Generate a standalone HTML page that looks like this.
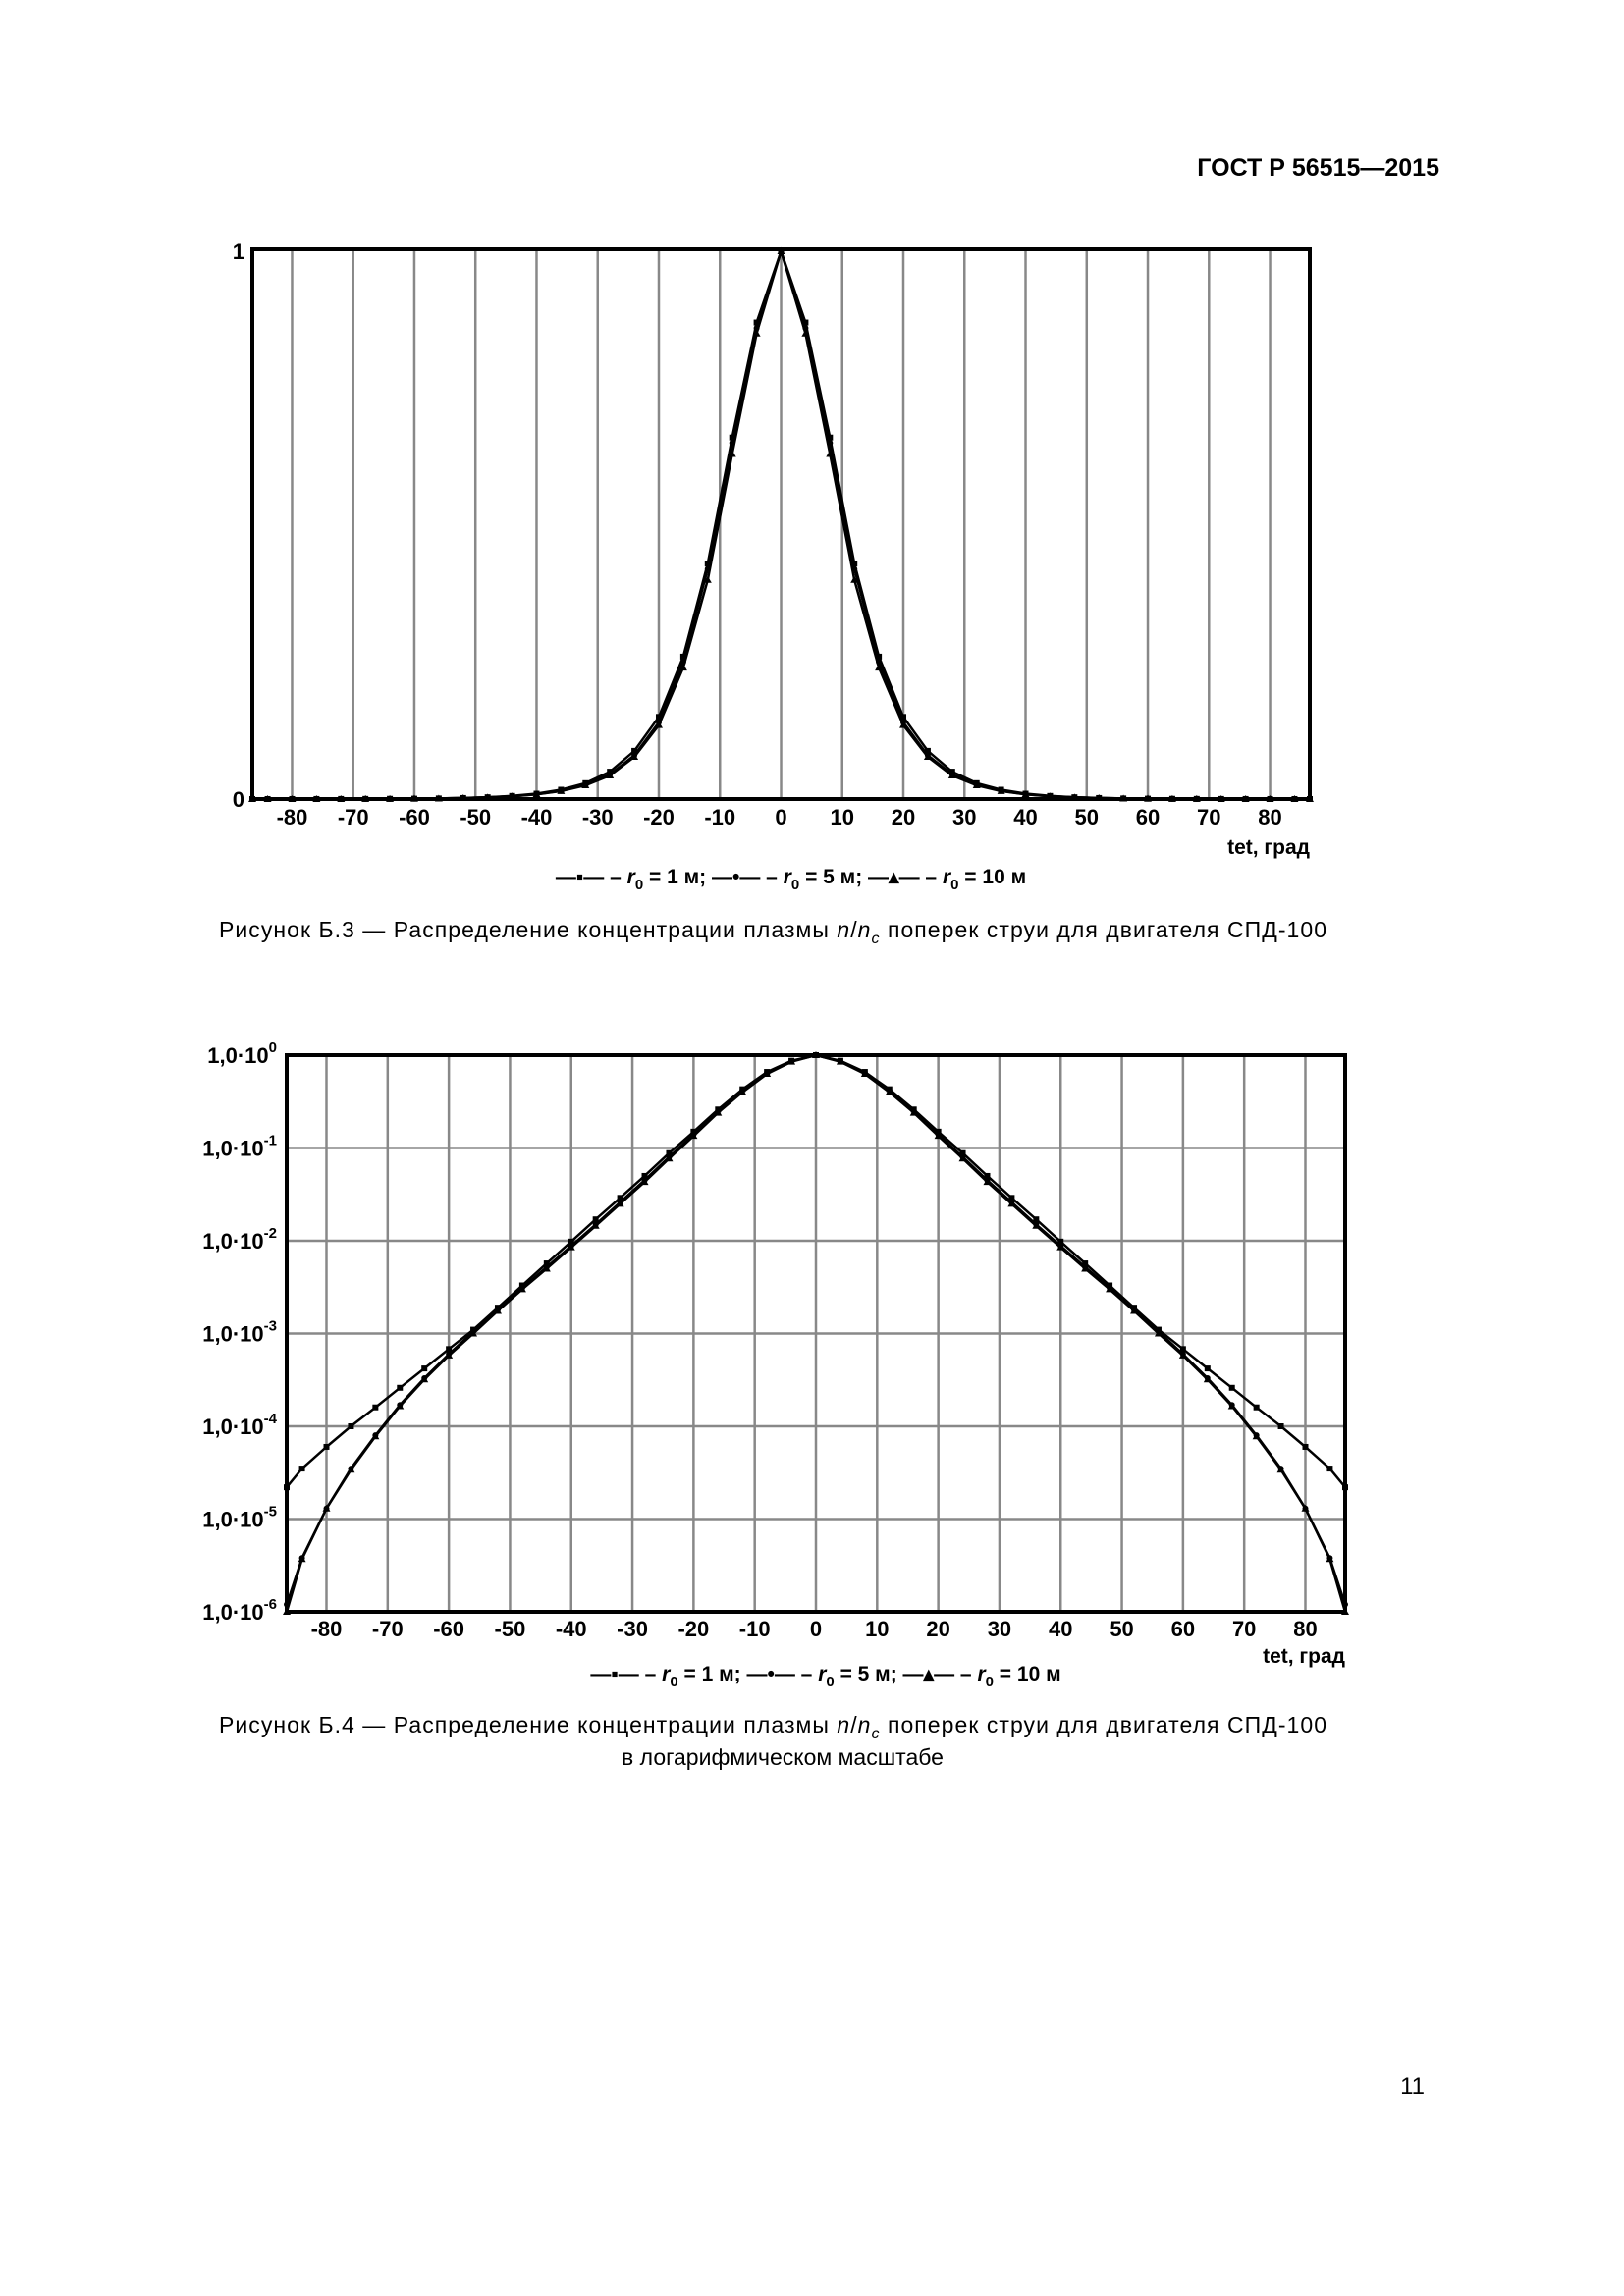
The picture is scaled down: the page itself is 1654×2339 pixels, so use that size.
<!DOCTYPE html>
<html><head><meta charset="utf-8"><style>
html,body{margin:0;padding:0;background:#fff}
svg{display:block;font-family:"Liberation Sans","Noto Sans CJK SC",sans-serif}
</style></head><body>
<svg id="page" width="1654" height="2339" viewBox="0 0 1654 2339" xmlns="http://www.w3.org/2000/svg">
<text x="1466" y="179" text-anchor="end" font-size="25" font-weight="bold">ГОСТ Р 56515—2015</text>
<g id="c1"></g>
<g id="c2"></g>
<text x="223" y="955" font-size="23" textLength="1128">Рисунок Б.3 — Распределение концентрации плазмы <tspan font-style="italic">n</tspan>/<tspan font-style="italic">n</tspan><tspan font-style="italic" font-size="16" dy="6">c</tspan><tspan dy="-6"> поперек струи для двигателя СПД-100</tspan></text>
<text x="223" y="1765" font-size="23" textLength="1128">Рисунок Б.4 — Распределение концентрации плазмы <tspan font-style="italic">n</tspan>/<tspan font-style="italic">n</tspan><tspan font-style="italic" font-size="16" dy="6">c</tspan><tspan dy="-6"> поперек струи для двигателя СПД-100</tspan></text>
<text x="797" y="1798" font-size="23" text-anchor="middle">в логарифмическом масштабе</text>
<text x="1451" y="2133" font-size="24" text-anchor="end">11</text>
</svg>
<script>
const angles=[-86.5,-84,-80,-76,-72,-68,-64,-60,-56,-52,-48,-44,-40,-36,-32,-28,-24,-20,-16,-12,-8,-4,0,4,8,12,16,20,24,28,32,36,40,44,48,52,56,60,64,68,72,76,80,84,86.5];
const r1=[0.000022,0.000035,0.00006,0.0001,0.00016,0.00026,0.00042,0.00068,0.0011,0.0019,0.0033,0.0057,0.0098,0.017,0.029,0.05,0.088,0.15,0.26,0.43,0.66,0.87,1,0.87,0.66,0.43,0.26,0.15,0.088,0.05,0.029,0.017,0.0098,0.0057,0.0033,0.0019,0.0011,0.00068,0.00042,0.00026,0.00016,0.0001,0.00006,0.000035,0.000022];
const r5=[0.0000012,0.0000038,0.000013,0.000035,0.00008,0.00017,0.00033,0.0006,0.00105,0.0018,0.0031,0.0052,0.0088,0.015,0.026,0.045,0.08,0.14,0.25,0.42,0.65,0.86,1,0.86,0.65,0.42,0.25,0.14,0.08,0.045,0.026,0.015,0.0088,0.0052,0.0031,0.0018,0.00105,0.0006,0.00033,0.00017,0.00008,0.000035,0.000013,0.0000038,0.0000012];
const r10=[0.000001,0.0000037,0.000013,0.000034,0.000078,0.000165,0.00032,0.00058,0.001,0.00175,0.003,0.005,0.0085,0.0145,0.025,0.043,0.077,0.135,0.24,0.40,0.63,0.85,1,0.85,0.63,0.40,0.24,0.135,0.077,0.043,0.025,0.0145,0.0085,0.005,0.003,0.00175,0.001,0.00058,0.00032,0.000165,0.000078,0.000034,0.000013,0.0000037,0.000001];
const xTicks=[-80,-70,-60,-50,-40,-30,-20,-10,0,10,20,30,40,50,60,70,80];
const logTicks=[0,-1,-2,-3,-4,-5,-6];
const NS="http://www.w3.org/2000/svg";
function mk(p,t,a){const e=document.createElementNS(NS,t);for(const k in a)e.setAttribute(k,a[k]);p.appendChild(e);return e;}
function marker(g,shape,x,y){
 let m;
 if(shape==='sq'){m=mk(g,'rect',{x:x-3,y:y-3,width:6,height:6,fill:'#000'});}
 else if(shape==='ci'){m=mk(g,'circle',{cx:x,cy:y,r:3,fill:'#000'});}
 else {m=mk(g,'polygon',{points:(x)+','+(y-4)+' '+(x-4)+','+(y+3)+' '+(x+4)+','+(y+3),fill:'#000'});}
 
 
}
function chart(g,L,R,T,B,yFn,isLog,labY,tetY,legY){
 const xs=v=>L+(v+86.5)/173*(R-L);
 xTicks.forEach(t=>{
  const l=mk(g,'line',{x1:xs(t),x2:xs(t),y1:T,y2:B,stroke:'#888','stroke-width':2.5});
  
  
  const tx=mk(g,'text',{x:xs(t),y:labY,'text-anchor':'middle','font-size':22,'font-weight':'bold'});tx.textContent=t;
  
  
 });
 if(isLog){
  logTicks.forEach(p=>{
   const y=yFn(Math.pow(10,p));
   const l=mk(g,'line',{x1:L,x2:R,y1:y,y2:y,stroke:'#888','stroke-width':2.5});
   
   
   const tx=mk(g,'text',{x:L-10,y:y+8,'text-anchor':'end','font-size':22,'font-weight':'bold'});
   tx.textContent='1,0·10';
   const sp=mk(tx,'tspan',{dy:-11,'font-size':15});sp.textContent=p;
   
   
  });
 } else {
  [[1,'1'],[0,'0']].forEach(([v,s])=>{
   const tx=mk(g,'text',{x:L-8,y:yFn(v)+8,'text-anchor':'end','font-size':22,'font-weight':'bold'});tx.textContent=s;
   
   
  });
 }
 const fr=mk(g,'rect',{x:L,y:T,width:R-L,height:B-T,fill:'none',stroke:'#000','stroke-width':4});
 
 
 [[r1,'sq'],[r5,'ci'],[r10,'tr']].forEach(([arr,sh])=>{
  const sg=mk(g,'g',{});
  
  
  const pts=angles.map((a,i)=>xs(a).toFixed(1)+','+yFn(arr[i]).toFixed(1)).join(' ');
  mk(sg,'polyline',{points:pts,fill:'none',stroke:'#000','stroke-width':2.5});
  angles.forEach((a,i)=>marker(sg,sh,xs(a),yFn(arr[i])));
 });
 const tt=mk(g,'text',{x:R,y:tetY,'text-anchor':'end','font-size':21,'font-weight':'bold'});tt.textContent='tet, град';
 
 
 const lg=mk(g,'text',{x:(L+R)/2+10,y:legY,'text-anchor':'middle','font-size':21,'font-weight':'bold'});
 
 
 lg.innerHTML='\u2014\u25AA\u2014 \u2013 <tspan font-style="italic">r</tspan><tspan font-size="15" dy="6">0</tspan><tspan dy="-6"> = 1 м;  \u2014\u2022\u2014 \u2013 </tspan><tspan font-style="italic">r</tspan><tspan font-size="15" dy="6">0</tspan><tspan dy="-6"> = 5 м;  \u2014\u25B4\u2014 \u2013 </tspan><tspan font-style="italic">r</tspan><tspan font-size="15" dy="6">0</tspan><tspan dy="-6"> = 10 м</tspan>';
}
const c1=document.getElementById('c1'),c2=document.getElementById('c2');
chart(c1,257,1334,254,814,v=>814-v*(814-256),false,840,870,900);
chart(c2,292,1370,1075,1642,v=>1075+(-Math.log10(v))*(1642-1075)/6,true,1667,1694,1712);
</script>
</body></html>
